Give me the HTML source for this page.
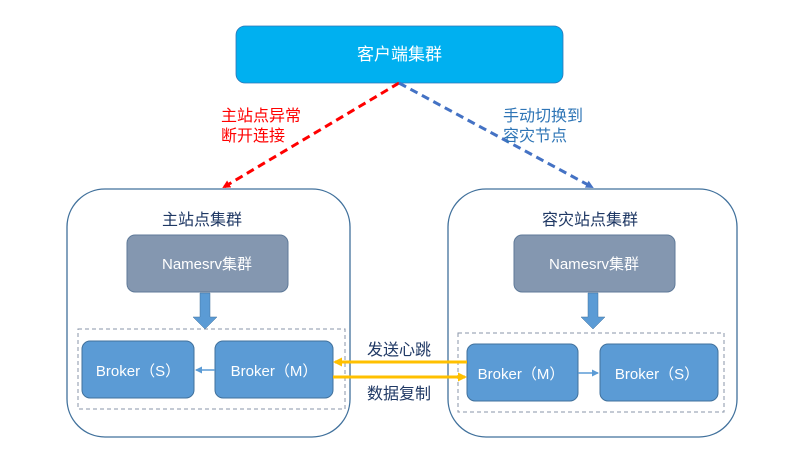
<!DOCTYPE html>
<html><head><meta charset="utf-8"><style>
html,body{margin:0;padding:0;background:#fff;}
text{font-family:"Liberation Sans","Noto Sans CJK SC",sans-serif;}
</style></head><body>
<svg width="800" height="456" viewBox="0 0 800 456" xmlns="http://www.w3.org/2000/svg">
<defs>
<marker id="ar" markerWidth="8" markerHeight="8" refX="6" refY="4" orient="auto" markerUnits="userSpaceOnUse"><path d="M0,0 L8,4 L0,8 Z" fill="#ff0000"/></marker>
<marker id="ab" markerWidth="8" markerHeight="8" refX="6" refY="4" orient="auto" markerUnits="userSpaceOnUse"><path d="M0,0 L8,4 L0,8 Z" fill="#4472c4"/></marker>
<marker id="ay" markerWidth="9" markerHeight="9" refX="7" refY="4.5" orient="auto" markerUnits="userSpaceOnUse"><path d="M0,0 L9,4.5 L0,9 Z" fill="#ffc000"/></marker>
<marker id="as" markerWidth="7" markerHeight="7" refX="6" refY="3.5" orient="auto" markerUnits="userSpaceOnUse"><path d="M0,0 L7,3.5 L0,7 Z" fill="#5b9bd5"/></marker>
</defs>
<rect x="236" y="26" width="327" height="57" rx="9" fill="#00b0f0" stroke="#2e75b6" stroke-width="0.8"/>
<text x="399.5" y="60" font-size="17" fill="#fff" text-anchor="middle">客户端集群</text>
<line x1="399" y1="83" x2="224" y2="187" stroke="#ff0000" stroke-width="3" stroke-dasharray="8,5" marker-end="url(#ar)"/>
<line x1="399" y1="83" x2="592" y2="187" stroke="#4472c4" stroke-width="3" stroke-dasharray="8,5" marker-end="url(#ab)"/>
<text x="221" y="121" font-size="16" fill="#ff0000">主站点异常</text>
<text x="221" y="141" font-size="16" fill="#ff0000">断开连接</text>
<text x="503" y="121" font-size="16" fill="#2e75b6">手动切换到</text>
<text x="503" y="141" font-size="16" fill="#2e75b6">容灾节点</text>
<rect x="67" y="189" width="283" height="248" rx="38" fill="#fff" stroke="#41719c" stroke-width="1.3"/>
<text x="202" y="225" font-size="16" fill="#1f3864" text-anchor="middle">主站点集群</text>
<rect x="127" y="235" width="161" height="57" rx="8" fill="#8497b0" stroke="#5f7a99"/>
<text x="207" y="269" font-size="15" fill="#fff" text-anchor="middle">Namesrv集群</text>
<path d="M200,293 h10 v24 h7 l-12,12 l-12,-12 h7 Z" fill="#5b9bd5" stroke="#41719c" stroke-width="0.5"/>
<rect x="78" y="329" width="267" height="80" fill="none" stroke="#8a95a8" stroke-dasharray="4,3"/>
<rect x="82" y="341" width="112" height="57" rx="8" fill="#5b9bd5" stroke="#41719c"/>
<text x="138" y="376" font-size="15" fill="#fff" text-anchor="middle">Broker（S）</text>
<rect x="215" y="341" width="118" height="57" rx="8" fill="#5b9bd5" stroke="#41719c"/>
<text x="274" y="376" font-size="15" fill="#fff" text-anchor="middle">Broker（M）</text>
<line x1="215" y1="370" x2="196" y2="370" stroke="#5b9bd5" stroke-width="1.5" marker-end="url(#as)"/>
<rect x="448" y="189" width="289" height="248" rx="38" fill="#fff" stroke="#41719c" stroke-width="1.3"/>
<text x="590" y="225" font-size="16" fill="#1f3864" text-anchor="middle">容灾站点集群</text>
<rect x="514" y="235" width="161" height="57" rx="8" fill="#8497b0" stroke="#5f7a99"/>
<text x="594" y="269" font-size="15" fill="#fff" text-anchor="middle">Namesrv集群</text>
<path d="M588,293 h10 v24 h7 l-12,12 l-12,-12 h7 Z" fill="#5b9bd5" stroke="#41719c" stroke-width="0.5"/>
<rect x="458" y="333" width="266" height="79" fill="none" stroke="#8a95a8" stroke-dasharray="4,3"/>
<rect x="467" y="344" width="111" height="57" rx="8" fill="#5b9bd5" stroke="#41719c"/>
<text x="521" y="379" font-size="15" fill="#fff" text-anchor="middle">Broker（M）</text>
<rect x="600" y="344" width="118" height="57" rx="8" fill="#5b9bd5" stroke="#41719c"/>
<text x="657" y="379" font-size="15" fill="#fff" text-anchor="middle">Broker（S）</text>
<line x1="578" y1="373" x2="598" y2="373" stroke="#5b9bd5" stroke-width="1.5" marker-end="url(#as)"/>
<line x1="467" y1="362" x2="335" y2="362" stroke="#ffc000" stroke-width="3" marker-end="url(#ay)"/>
<line x1="333" y1="377" x2="465" y2="377" stroke="#ffc000" stroke-width="3" marker-end="url(#ay)"/>
<text x="399" y="355" font-size="16" fill="#1f3864" text-anchor="middle">发送心跳</text>
<text x="399" y="399" font-size="16" fill="#1f3864" text-anchor="middle">数据复制</text>
</svg>
</body></html>
